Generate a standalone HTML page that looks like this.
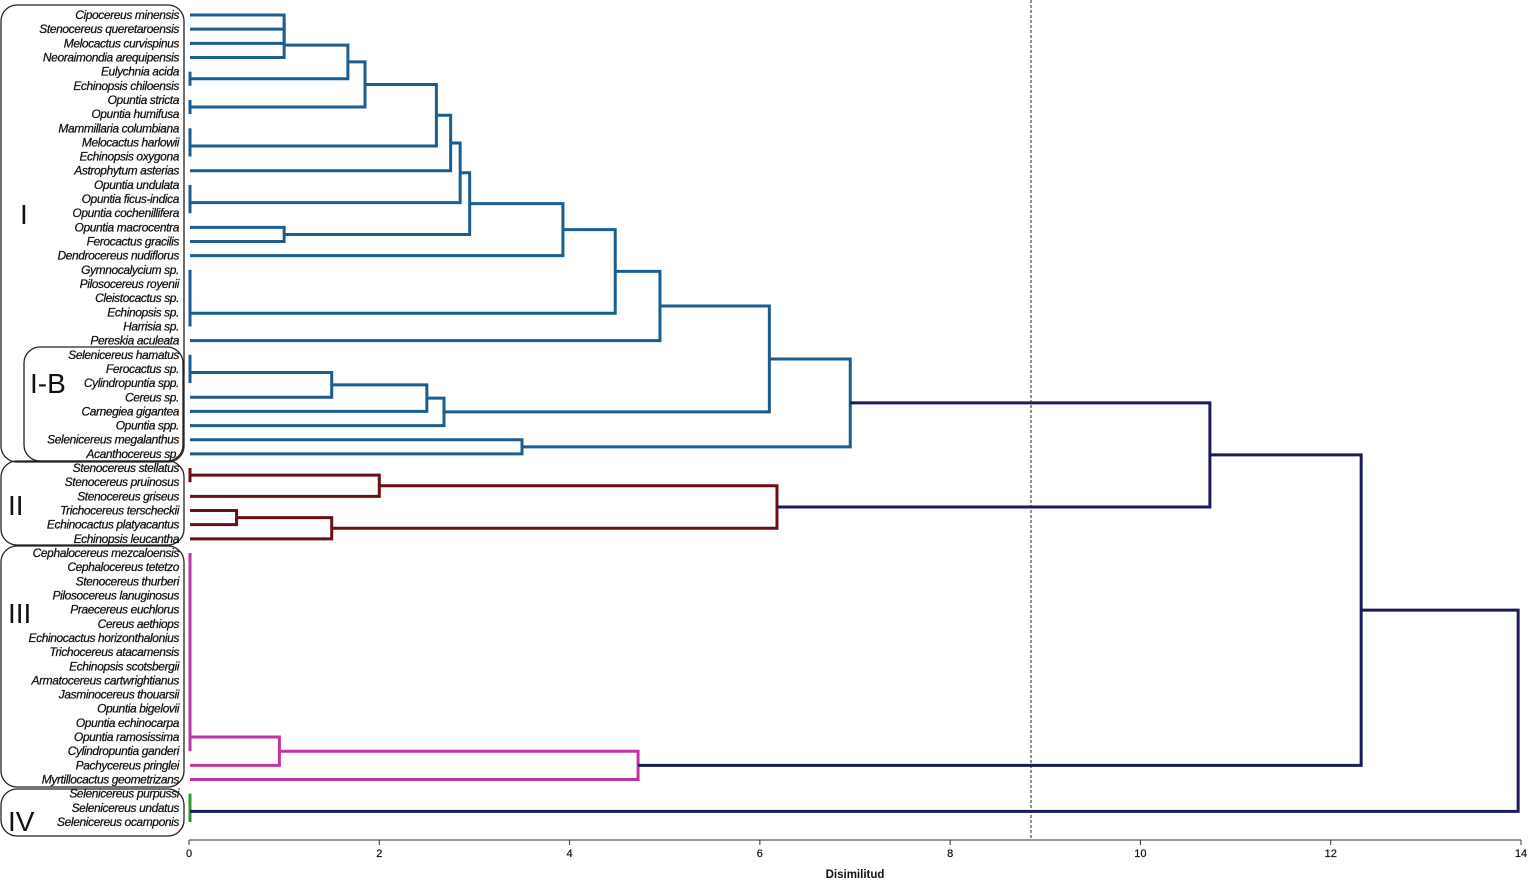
<!DOCTYPE html>
<html><head><meta charset="utf-8"><style>
body{margin:0;background:#fff;}
svg{display:block;}
text{font-family:"Liberation Sans",sans-serif;}
</style></head><body>
<svg id="chart" width="1532" height="880"></svg>
<script>
const leaves=["Cipocereus minensis","Stenocereus queretaroensis","Melocactus curvispinus","Neoraimondia arequipensis","Eulychnia acida","Echinopsis chiloensis","Opuntia stricta","Opuntia humifusa","Mammillaria columbiana","Melocactus harlowii","Echinopsis oxygona","Astrophytum asterias","Opuntia undulata","Opuntia ficus-indica","Opuntia cochenillifera","Opuntia macrocentra","Ferocactus gracilis","Dendrocereus nudiflorus","Gymnocalycium sp.","Pilosocereus royenii","Cleistocactus sp.","Echinopsis sp.","Harrisia sp.","Pereskia aculeata","Selenicereus hamatus","Ferocactus sp.","Cylindropuntia spp.","Cereus sp.","Carnegiea gigantea","Opuntia spp.","Selenicereus megalanthus","Acanthocereus sp.","Stenocereus stellatus","Stenocereus pruinosus","Stenocereus griseus","Trichocereus terscheckii","Echinocactus platyacantus","Echinopsis leucantha","Cephalocereus mezcaloensis","Cephalocereus tetetzo","Stenocereus thurberi","Pilosocereus lanuginosus","Praecereus euchlorus","Cereus aethiops","Echinocactus horizonthalonius","Trichocereus atacamensis","Echinopsis scotsbergii","Armatocereus cartwrightianus","Jasminocereus thouarsii","Opuntia bigelovii","Opuntia echinocarpa","Opuntia ramosissima","Cylindropuntia ganderi","Pachycereus pringlei","Myrtillocactus geometrizans","Selenicereus purpussi","Selenicereus undatus","Selenicereus ocamponis"];
// merges: [id, childA, childB, height, group]
const merges=[
["a1","L0","L1",1.0,"I"],["a2","a1","L2",1.0,"I"],["a3","a2","L3",1.0,"I"],
["b","L4","L5",0,"I"],["c","a3","b",1.67,"I"],["d","L6","L7",0,"I"],["e","c","d",1.85,"I"],
["f1","L8","L9",0,"I"],["f2","f1","L10",0,"I"],["g","e","f2",2.6,"I"],["h","g","L11",2.75,"I"],
["i1","L12","L13",0,"I"],["i2","i1","L14",0,"I"],["j","h","i2",2.85,"I"],["k","L15","L16",1.0,"I"],
["l","j","k",2.95,"I"],["m","l","L17",3.93,"I"],
["n1","L18","L19",0,"I"],["n2","n1","L20",0,"I"],["n3","n2","L21",0,"I"],["n4","n3","L22",0,"I"],
["o","m","n4",4.48,"I"],["p","o","L23",4.95,"I"],
["q1","L24","L25",0,"I"],["q2","q1","L26",0,"I"],["r","q2","L27",1.5,"I"],["s","r","L28",2.5,"I"],["u","s","L29",2.68,"I"],
["v","L30","L31",3.5,"I"],["w","p","u",6.1,"I"],["x","w","v",6.95,"I"],
["ii1","L32","L33",0,"II"],["ii2","ii1","L34",2.0,"II"],["ii3","L35","L36",0.5,"II"],["ii4","ii3","L37",1.5,"II"],["ii5","ii2","ii4",6.18,"II"],
["y","x","ii5",10.73,"root"],
["t1","L38","L39",0,"III"],["t2","t1","L40",0,"III"],["t3","t2","L41",0,"III"],["t4","t3","L42",0,"III"],["t5","t4","L43",0,"III"],["t6","t5","L44",0,"III"],["t7","t6","L45",0,"III"],["t8","t7","L46",0,"III"],["t9","t8","L47",0,"III"],["t10","t9","L48",0,"III"],["t11","t10","L49",0,"III"],["t12","t11","L50",0,"III"],["t13","t12","L51",0,"III"],["t14","t13","L52",0,"III"],["t15","t14","L53",0.95,"III"],["t16","t15","L54",4.72,"III"],
["z","y","t16",12.32,"root"],
["iv1","L55","L56",0,"IV"],["iv2","iv1","L57",0,"IV"],
["root","z","iv2",13.97,"root"]];
const xTicks=[0,2,4,6,8,10,12,14];
const cutoff=8.85;

const NS="http://www.w3.org/2000/svg";
const svg=document.getElementById("chart");
const x0=189,xScale=(1521-189)/14;
const sx=v=>x0+v*xScale;
const sy=i=>15+i*(822-15)/57;
const colors={I:"#1c5d8f",II:"#6a1014",III:"#c2359f",IV:"#2a9a2a",root:"#1b1b5e"};
function mk(tag,attrs,parent){const e=document.createElementNS(NS,tag);for(const k in attrs)e.setAttribute(k,attrs[k]);(parent||svg).appendChild(e);return e;}

const boxes=[["cluster-i-box",1,5,183,457,"I",20,224],["cluster-ib-box",24,347,159,114,"I-B",30,393],["cluster-ii-box",1,461,183,84,"II",8,515],["cluster-iii-box",1,546,183,241,"III",8,623],["cluster-iv-box",1,789,183,47,"IV",8,831]];
boxes.forEach(b=>{
 const r=mk("rect",{x:b[1],y:b[2],width:b[3],height:b[4],rx:16,fill:"none",stroke:"#222","stroke-width":1.3});
 
 
 const t=mk("text",{x:b[6],y:b[7],"font-size":28,fill:"#111"});t.textContent=b[5];
 
 
});
leaves.forEach((nm,i)=>{
 const t=mk("text",{x:179,y:sy(i)+4,"font-size":12,"font-style":"italic","text-anchor":"end",fill:"#111","letter-spacing":"-0.4",stroke:"#111","stroke-width":0.25});
 t.textContent=nm;
 
 
});
const pos={};
leaves.forEach((n,i)=>{pos["L"+i]={x:sx(0)+1,y:sy(i)};});
merges.forEach(m=>{
 const a=pos[m[1]],b=pos[m[2]],X=sx(m[3])+(m[3]===0?1:0),c=colors[m[4]];
 const p=mk("path",{d:`M${a.x},${a.y}H${X}V${b.y}H${b.x}`,fill:"none",stroke:c,"stroke-width":3});
 
 
 pos[m[0]]={x:X,y:(a.y+b.y)/2};
});
const cl=mk("line",{x1:sx(cutoff),x2:sx(cutoff),y1:0,y2:840,stroke:"#222","stroke-width":1,"stroke-dasharray":"3,2"});


const ax=mk("line",{x1:x0,x2:sx(14),y1:840,y2:840,stroke:"#333","stroke-width":1});


xTicks.forEach(v=>{
 const tk=mk("line",{x1:sx(v),x2:sx(v),y1:840,y2:845,stroke:"#333"});
 
 
 const t=mk("text",{x:sx(v),y:857,"font-size":11,"text-anchor":"middle",fill:"#111",stroke:"#111","stroke-width":0.2});t.textContent=v;
 
 
});
const xt=mk("text",{x:855,y:878,"font-size":11.5,"font-weight":"bold","text-anchor":"middle",fill:"#111"});xt.textContent="Disimilitud";


</script>
</body></html>
